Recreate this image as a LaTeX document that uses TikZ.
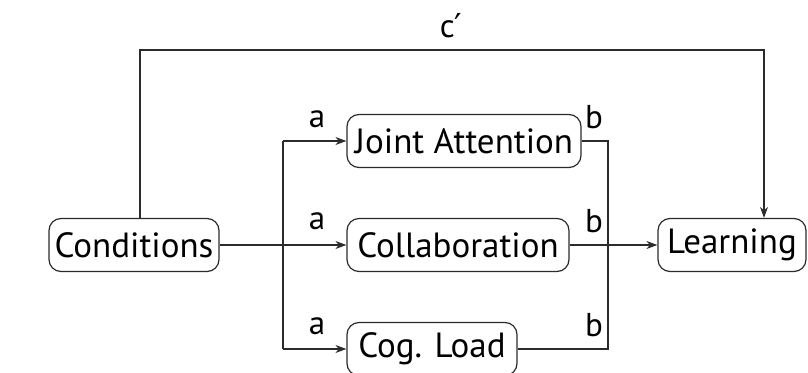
\documentclass[tikz,border=0pt]{standalone}
\usepackage{fontspec}
\setmainfont{PT Sans}
\newfontfamily\primefont{DejaVu Sans}
\usetikzlibrary{arrows.meta}
\definecolor{linegray}{HTML}{2B2B2B}
\tikzset{
  stage/.style={draw=linegray, line width=1.2pt, rounded corners=12pt,
    inner sep=0pt, minimum height=53pt, text=black,
    font=\fontsize{35}{40}\selectfont},
  link/.style={draw=linegray, line width=1.2pt},
  flow/.style={link, -{Stealth[length=11pt,width=8pt]}},
  coef/.style={font=\fontsize{33}{38}\selectfont, text=black, inner sep=0pt}
}
\begin{document}
\begin{tikzpicture}[x=1pt,y=-1pt]
\useasboundingbox (0,0) rectangle (808,372);
% variables
\node[stage, minimum width=170pt] (cond)  at (134,245) {Conditions};
\node[stage, minimum width=234pt] (joint) at (464,141) {Joint Attention};
\node[stage, minimum width=222pt] (collab) at (458,245) {Collaboration};
\node[stage, minimum width=170pt] (cog)   at (432,349) {Cog. Load};
\node[stage, minimum width=148pt] (learn) at (732,245) {Learning};
% branch points of the mediator buses
\coordinate (busL) at (283,0);
\coordinate (busR) at (608,0);
\coordinate (topL) at (140,50);
\coordinate (topR) at (764,50);
% paths a
\draw[flow] (cond.east) -- (collab.west);
\draw[link] (busL |- joint.west) -- (busL |- cog.west);
\draw[flow] (busL |- joint.west) -- (joint.west);
\draw[flow] (busL |- cog.west) -- (cog.west);
% paths b
\draw[link] (joint.east) -- (busR |- joint.east) -- (busR |- cog.east) -- (cog.east);
\draw[flow] (collab.east) -- (learn.west);
% direct path c'
\draw[flow] (topL |- cond.north) -- (topL) -- (topR) -- (topR |- learn.north);
% coefficient labels
\node[coef] (a1) at (317,119) {a};
\node[coef] (a2) at (317,221) {a};
\node[coef] (a3) at (317,326) {a};
\node[coef] (b1) at (594,117) {b};
\node[coef] (b2) at (594,221) {b};
\node[coef] (b3) at (594,325) {b};
\node[coef] (c1) at (451,26) {c{\primefont ′}};
\end{tikzpicture}
\end{document}
